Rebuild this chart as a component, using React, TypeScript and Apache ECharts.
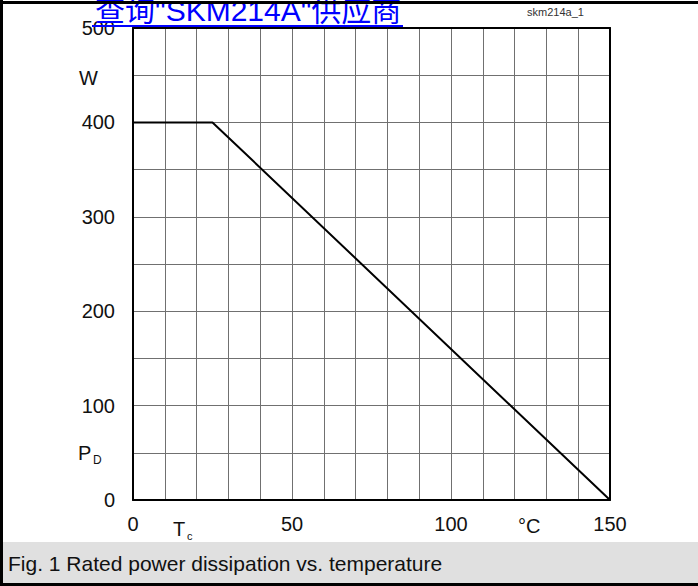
import React, { useEffect, useRef } from "react";
import * as echarts from "echarts";

const temperature = [0, 25, 150];
const power = [400, 400, 0];
const xTickLabels = [0, 50, 100, 150];
const yTickLabels = [0, 100, 200, 300, 400, 500];

const FONT = "'Liberation Sans', Arial, sans-serif";

export default function App() {
  const ref = useRef<HTMLDivElement>(null);
  useEffect(() => {
    if (!ref.current) return;
    const chart = echarts.init(ref.current, undefined, { renderer: "svg" });
    const gridLine = { color: "#707070", width: 1 };
    const axisText = { color: "#111", fontSize: 20, fontFamily: FONT };
    chart.setOption({
      animation: false,
      backgroundColor: "#fff",
      grid: { left: 133, right: 88, top: 28, bottom: 86 },
      xAxis: [
        {
          type: "value",
          min: 0,
          max: 150,
          interval: 10,
          axisLine: { show: true, lineStyle: { color: "#000", width: 2 } },
          axisTick: { show: false },
          splitLine: { show: true, lineStyle: gridLine },
          axisLabel: {
            ...axisText,
            margin: 14,
            showMinLabel: true,
            showMaxLabel: true,
            formatter: (v: number) => (xTickLabels.includes(v) ? String(v) : ""),
          },
        },
        {
          type: "value",
          position: "top",
          min: 0,
          max: 150,
          interval: 10,
          axisLine: { show: true, onZero: false, lineStyle: { color: "#000", width: 2 } },
          axisTick: { show: false },
          axisLabel: { show: false },
          splitLine: { show: false },
        },
      ],
      yAxis: [
        {
          type: "value",
          min: 0,
          max: 500,
          interval: 100,
          axisLine: { show: true, lineStyle: { color: "#000", width: 2 } },
          axisTick: { show: false },
          splitLine: { show: true, lineStyle: gridLine },
          minorTick: { show: false, splitNumber: 2 },
          minorSplitLine: { show: true, lineStyle: gridLine },
          axisLabel: {
            ...axisText,
            margin: 18,
            formatter: (v: number) => (yTickLabels.includes(v) ? String(v) : ""),
          },
        },
        {
          type: "value",
          position: "right",
          min: 0,
          max: 500,
          interval: 100,
          axisLine: { show: true, onZero: false, lineStyle: { color: "#000", width: 2 } },
          axisTick: { show: false },
          axisLabel: { show: false },
          splitLine: { show: false },
        },
      ],
      series: [
        {
          type: "line",
          data: temperature.map((t, i) => [t, power[i]]),
          showSymbol: false,
          symbol: "none",
          lineStyle: { color: "#000", width: 2 },
          z: 5,
        },
      ],
      graphic: [
        {
          type: "text",
          x: 95,
          y: 25,
          style: {
            text: "查询\"SKM214A\"供应商",
            fill: "#0000ff",
            fontSize: 30,
            fontFamily: "'Liberation Sans', 'Noto Sans CJK SC', sans-serif",
            verticalAlign: "bottom",
          },
          z: 10,
        },
        {
          type: "rect",
          shape: { x: 92, y: 25, width: 311, height: 2 },
          style: { fill: "#0000ff" },
          z: 11,
        },
        {
          type: "text",
          x: 527,
          y: 12,
          style: { text: "skm214a_1", fill: "#333", fontSize: 11, fontFamily: FONT, verticalAlign: "middle" },
        },
        {
          type: "text",
          x: 79,
          y: 78,
          style: { text: "W", fill: "#111", fontSize: 20, fontFamily: FONT, verticalAlign: "middle" },
        },
        {
          type: "text",
          x: 78,
          y: 453,
          style: { text: "P", fill: "#111", fontSize: 20, fontFamily: FONT, verticalAlign: "middle" },
        },
        {
          type: "text",
          x: 93,
          y: 460,
          style: { text: "D", fill: "#111", fontSize: 12, fontFamily: FONT, verticalAlign: "middle" },
        },
        {
          type: "text",
          x: 173,
          y: 529,
          style: { text: "T", fill: "#111", fontSize: 20, fontFamily: FONT, verticalAlign: "middle" },
        },
        {
          type: "text",
          x: 187,
          y: 536,
          style: { text: "c", fill: "#111", fontSize: 11, fontFamily: FONT, verticalAlign: "middle" },
        },
        {
          type: "text",
          x: 518,
          y: 526,
          style: { text: "°C", fill: "#111", fontSize: 20, fontFamily: FONT, verticalAlign: "middle" },
        },
        {
          type: "rect",
          shape: { x: 3, y: 542, width: 695, height: 41 },
          style: { fill: "#e0e0e0" },
        },
        {
          type: "text",
          x: 8,
          y: 563,
          style: {
            text: "Fig. 1 Rated power dissipation vs. temperature",
            fill: "#111",
            fontSize: 21,
            fontFamily: FONT,
            verticalAlign: "middle",
          },
        },
        { type: "rect", shape: { x: 0, y: 1, width: 698, height: 3 }, style: { fill: "#000" }, z: 20 },
        { type: "rect", shape: { x: 0, y: 0, width: 3, height: 586 }, style: { fill: "#000" }, z: 20 },
        { type: "rect", shape: { x: 0, y: 583, width: 698, height: 3 }, style: { fill: "#000" }, z: 20 },
      ],
    });
    return () => chart.dispose();
  }, []);
  return (
    <div
      ref={ref}
      style={{ position: "fixed", left: 0, top: 0, width: 698, height: 586, background: "#fff" }}
    />
  );
}
